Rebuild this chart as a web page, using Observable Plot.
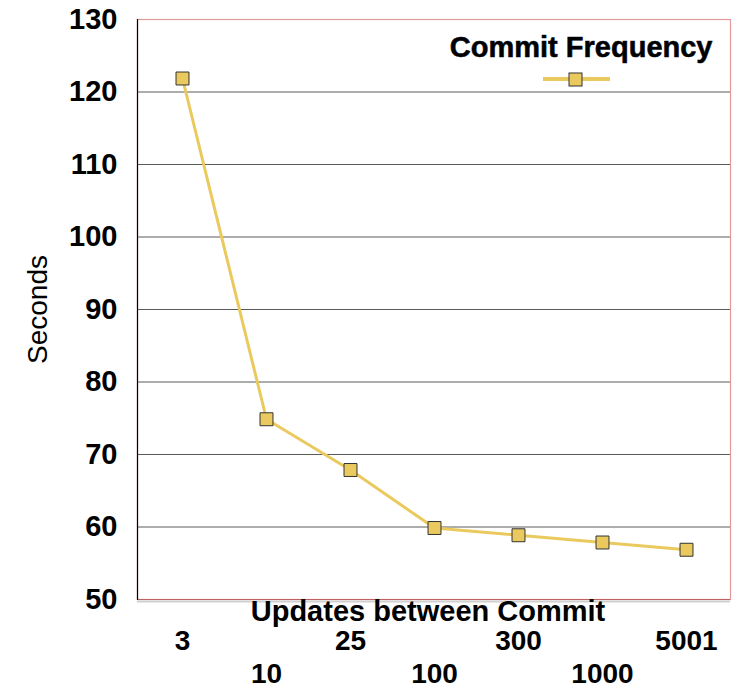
<!DOCTYPE html>
<html>
<head>
<meta charset="utf-8">
<script src="https://cdn.jsdelivr.net/npm/d3@7"></script>
<script src="https://cdn.jsdelivr.net/npm/@observablehq/plot@0.6"></script>
<style>
  html, body { margin: 0; padding: 0; background: #fff; }
  svg { font-family: "Liberation Sans", Arial, sans-serif; }
</style>
</head>
<body>
<div id="chart"></div>
<script>
const categories = ["3", "10", "25", "100", "300", "1000", "5001"];
const seconds = [122, 75, 68, 60, 59, 58, 57];
const yTicks = [50, 60, 70, 80, 90, 100, 110, 120, 130];
const seriesName = "Commit Frequency";
const xTitle = "Updates between Commit";
const yTitle = "Seconds";

const data = categories.map((c, i) => ({ cat: c, value: seconds[i] }));
const lineColor = "#EACA5E";
const fontBold = { fontSize: 29, fontWeight: "bold", fill: "#000" };
const fontTick = { fontSize: 28, fontWeight: "bold", fill: "#000" };

const legendMark = (index, scales, values, dims) => {
  const g = d3.create("svg:g");
  const right = dims.width - dims.marginRight;
  const top = dims.marginTop;
  const cy = top + 61;
  g.append("line")
    .attr("x1", right - 187).attr("x2", right - 120)
    .attr("y1", cy - 1).attr("y2", cy - 1)
    .attr("stroke", lineColor).attr("stroke-width", 4);
  g.append("rect")
    .attr("x", right - 161).attr("y", cy - 7)
    .attr("width", 13).attr("height", 13)
    .attr("fill", lineColor).attr("stroke", "#333").attr("stroke-width", 1);
  return g.node();
};

const chart = Plot.plot({
  width: 737,
  height: 688,
  marginLeft: 137,
  marginRight: 7,
  marginTop: 19,
  marginBottom: 89,
  style: { fontFamily: "'Liberation Sans', Arial, sans-serif", background: "#fff" },
  x: { type: "point", domain: categories, padding: 0.5 },
  y: { domain: [50, 130] },
  marks: [
    Plot.gridY(yTicks.filter(d => d > 50 && d < 130), { stroke: "#5a5a5a", strokeOpacity: 1, strokeWidth: 1 }),
    Plot.frame({ stroke: "#E39A9A", strokeWidth: 1.2 }),
    Plot.ruleY([50], { stroke: "#d0d0d0", strokeWidth: 2, dy: 2 }),
    Plot.ruleY([50], { stroke: "#C06060", strokeWidth: 1 }),
    Plot.frame({ anchor: "left", stroke: "#000", strokeWidth: 1.2 }),
    Plot.axisY({ ticks: yTicks, tickSize: 0, tickPadding: 20, ...fontBold, label: null }),
    Plot.axisX({ ticks: categories.filter((d, i) => i % 2 === 0), tickSize: 0, tickPadding: 31, ...fontTick, label: null }),
    Plot.axisX({ ticks: categories.filter((d, i) => i % 2 === 1), tickSize: 0, tickPadding: 64, ...fontTick, label: null }),
    Plot.text([xTitle], { frameAnchor: "bottom", lineAnchor: "top", dx: -6, dy: 1, ...fontBold }),
    Plot.text([yTitle], { frameAnchor: "left", rotate: -90, dx: -99, fontSize: 28, fill: "#000", textAnchor: "middle" }),
    Plot.line(data, { x: "cat", y: "value", stroke: lineColor, strokeWidth: 3, dy: 1 }),
    Plot.dot(data, { x: "cat", y: "value", symbol: "square", r: 7.3, fill: lineColor, stroke: "#333", strokeWidth: 1, fillOpacity: 1, dy: 1 }),
    Plot.text([seriesName], { frameAnchor: "top-right", textAnchor: "end", lineAnchor: "middle", dx: -18, dy: 28, ...fontBold, stroke: "#0a1a3a", strokeWidth: 0.6 }),
    legendMark
  ]
});
document.getElementById("chart").appendChild(chart);
</script>
</body>
</html>
